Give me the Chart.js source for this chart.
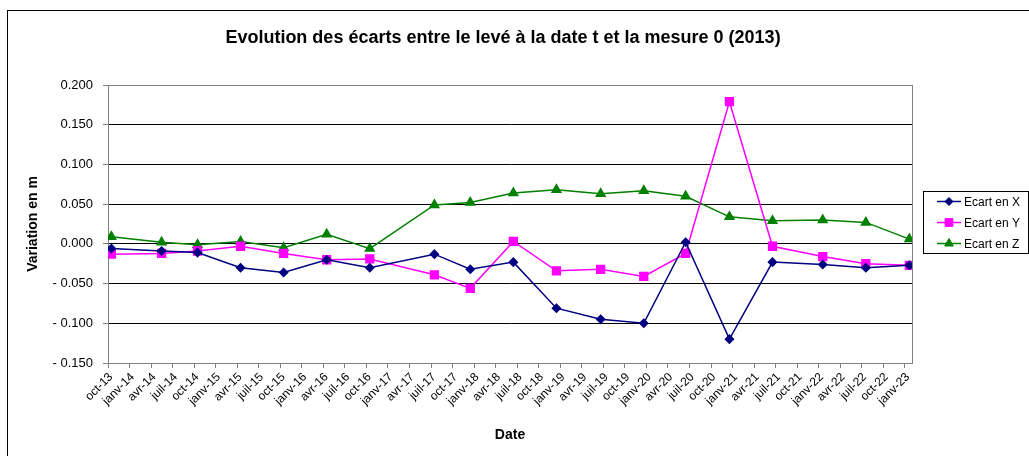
<!DOCTYPE html>
<html>
<head>
<meta charset="utf-8">
<title>Evolution des écarts</title>
<script src="https://cdn.jsdelivr.net/npm/chart.js"></script>
<style>
  body { margin: 0; background: #fff; }
  canvas { display: block; }
</style>
</head>
<body>
<canvas id="myChart" width="1029" height="456"></canvas>
<script>
// dates des levés
var datesLeves = ['2013-10-15', '2014-05-15', '2014-10-15', '2015-04-15', '2015-10-15', '2016-04-15',
  '2016-10-15', '2017-07-15', '2017-12-15', '2018-06-15', '2018-12-15', '2019-06-20',
  '2019-12-20', '2020-06-15', '2020-12-18', '2021-06-18', '2022-01-18', '2022-07-18', '2023-01-20'];

// écarts en m par rapport à la mesure 0
var ecartX = [-0.006, -0.009, -0.011, -0.030, -0.036, -0.020, -0.030, -0.013, -0.032, -0.023,
  -0.081, -0.095, -0.100, 0.002, -0.120, -0.023, -0.026, -0.030, -0.027];
var ecartY = [-0.013, -0.012, -0.009, -0.003, -0.012, -0.020, -0.019, -0.039, -0.056, 0.003,
  -0.034, -0.032, -0.041, -0.012, 0.179, -0.003, -0.016, -0.025, -0.027];
var ecartZ = [0.009, 0.002, -0.001, 0.003, -0.005, 0.012, -0.006, 0.049, 0.052, 0.064,
  0.068, 0.063, 0.067, 0.060, 0.034, 0.029, 0.030, 0.027, 0.006];

// graduations trimestrielles de l'axe des dates
var moisLabels = ['oct-13', 'janv-14', 'avr-14', 'juil-14', 'oct-14', 'janv-15', 'avr-15', 'juil-15',
  'oct-15', 'janv-16', 'avr-16', 'juil-16', 'oct-16', 'janv-17', 'avr-17', 'juil-17', 'oct-17',
  'janv-18', 'avr-18', 'juil-18', 'oct-18', 'janv-19', 'avr-19', 'juil-19', 'oct-19', 'janv-20',
  'avr-20', 'juil-20', 'oct-20', 'janv-21', 'avr-21', 'juil-21', 'oct-21', 'janv-22', 'avr-22',
  'juil-22', 'oct-22', 'janv-23'];

var police = "'Liberation Sans', Arial, sans-serif";

// nombre de mois depuis le 1er octobre 2013
function moisDepuisOrigine(d) {
  var p = d.split('-').map(Number);
  return (p[0] - 2013) * 12 + (p[1] - 10) + (p[2] - 1) / 30;
}

function serie(valeurs) {
  return valeurs.map(function (v, i) {
    return { x: moisDepuisOrigine(datesLeves[i]), y: v };
  });
}

// cadre du graphique, titre et légende
var habillage = {
  id: 'habillage',
  beforeDatasetsDraw: function (chart) {
    var a = chart.chartArea, ctx = chart.ctx;
    ctx.save();
    ctx.strokeStyle = '#808080';
    ctx.lineWidth = 1;
    ctx.strokeRect(Math.round(a.left) + 0.5, Math.round(a.top) + 0.5,
      Math.round(a.right - a.left), Math.round(a.bottom - a.top));
    ctx.restore();
  },
  afterDraw: function (chart) {
    var a = chart.chartArea, ctx = chart.ctx;
    ctx.save();
    // bordure extérieure
    ctx.strokeStyle = '#000';
    ctx.lineWidth = 1;
    ctx.strokeRect(7.5, 10.5, chart.width, chart.height);

    // titre
    ctx.fillStyle = '#000';
    ctx.font = 'bold 18px ' + police;
    ctx.textAlign = 'center';
    ctx.textBaseline = 'middle';
    ctx.fillText('Evolution des écarts entre le levé à la date t et la mesure 0 (2013)', 503, 38);

    // légende
    var lx = a.right + 11, ly = 191, lw = 105, lh = 62;
    ctx.strokeStyle = '#000';
    ctx.strokeRect(Math.round(lx) + 0.5, ly + 0.5, lw, lh);
    ctx.font = '12px ' + police;
    ctx.textAlign = 'left';
    chart.data.datasets.forEach(function (ds, i) {
      var y = ly + 10.5 + i * 21;
      ctx.strokeStyle = ds.borderColor;
      ctx.fillStyle = ds.backgroundColor;
      ctx.lineWidth = 1.5;
      ctx.beginPath();
      ctx.moveTo(lx + 14, y);
      ctx.lineTo(lx + 38, y);
      ctx.stroke();
      ctx.lineWidth = 1;
      Chart.helpers.drawPoint(ctx, {
        pointStyle: ds.pointStyle, radius: ds.pointRadius, rotation: 0, borderWidth: 1
      }, lx + 26, y);
      ctx.fillStyle = '#000';
      ctx.fillText(ds.label, lx + 41, y + 1);
    });
    ctx.restore();
  }
};

var ctx = document.getElementById('myChart');
var chart = new Chart(ctx, {
  type: 'line',
  data: {
    datasets: [{
      label: 'Ecart en X',
      data: serie(ecartX),
      borderColor: '#000080',
      backgroundColor: '#000080',
      pointStyle: 'rectRot',
      pointRadius: 4,
      borderWidth: 1.5
    }, {
      label: 'Ecart en Y',
      data: serie(ecartY),
      borderColor: '#FF00FF',
      backgroundColor: '#FF00FF',
      pointStyle: 'rect',
      pointRadius: 5.5,
      borderWidth: 1.5
    }, {
      label: 'Ecart en Z',
      data: serie(ecartZ),
      borderColor: '#008000',
      backgroundColor: '#008000',
      pointStyle: 'triangle',
      pointRadius: 5,
      borderWidth: 1.5
    }]
  },
  options: {
    responsive: false,
    animation: false,
    layout: { padding: { top: 85, right: 117, bottom: 0, left: 0 } },
    plugins: {
      legend: { display: false },
      title: { display: false },
      tooltip: { enabled: false }
    },
    scales: {
      x: {
        type: 'linear',
        min: 0,
        max: 112,
        afterFit: function (scale) { scale.height = 93; },
        border: { color: '#808080', width: 1 },
        grid: { drawOnChartArea: false, drawTicks: true, tickLength: 5, tickColor: '#808080' },
        ticks: {
          stepSize: 3,
          includeBounds: false,
          autoSkip: false,
          minRotation: 45,
          maxRotation: 45,
          padding: 2,
          labelOffset: 3,
          color: '#000',
          font: { family: police, size: 12 },
          callback: function (v) {
            var i = Math.round(v / 3);
            return Math.abs(v - i * 3) < 1e-6 ? moisLabels[i] : '';
          }
        },
        title: {
          display: true,
          text: 'Date',
          color: '#000',
          font: { family: police, size: 14, weight: 'bold' },
          padding: { top: 0, bottom: 12 }
        }
      },
      y: {
        min: -0.15,
        max: 0.2,
        afterFit: function (scale) { scale.width = 108; },
        border: { color: '#808080', width: 1 },
        grid: { color: '#000', lineWidth: 1, drawTicks: true, tickLength: 5, tickColor: '#808080' },
        ticks: {
          stepSize: 0.05,
          padding: 10,
          color: '#000',
          font: { family: police, size: 13 },
          callback: function (v) {
            return v < -1e-9 ? '- ' + Math.abs(v).toFixed(3) : Math.abs(v).toFixed(3);
          }
        },
        title: {
          display: true,
          text: 'Variation en m',
          color: '#000',
          font: { family: police, size: 14, weight: 'bold' },
          padding: { top: 25, bottom: 0 }
        }
      }
    }
  },
  plugins: [habillage]
});
</script>
</body>
</html>
